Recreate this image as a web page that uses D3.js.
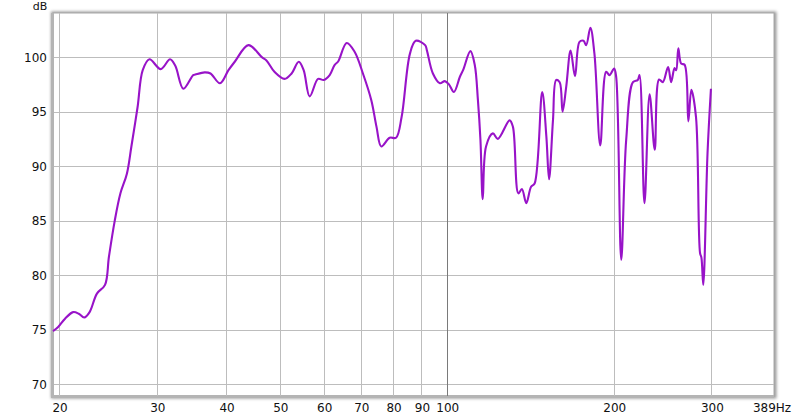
<!DOCTYPE html>
<html><head><meta charset="utf-8">
<script src="https://cdn.jsdelivr.net/npm/d3@7"></script>
<style>body{margin:0;background:#fff}svg{display:block}</style>
</head><body>
<svg id="c" width="800" height="416"></svg>
<script>
const freqs = [19.5,19.9,20.5,21.2,21.7,22.2,22.7,23.4,24.2,24.6,25.2,25.8,26.5,27.0,27.7,28.3,29.1,30.5,31.7,32.4,33.5,34.9,35.2,36.6,37.5,39.0,40.4,41.5,43.9,46.4,47.3,48.9,51.0,52.5,54.1,55.2,56.6,58.6,60.0,61.5,62.8,63.7,66.0,68.2,70.6,73.1,74.7,76.2,78.9,81.0,82.9,85.8,87.9,91.4,92.1,94.4,97.2,99.2,100.9,103.0,105.6,107,110.3,112.3,113.8,115,116.1,117.7,121.1,123.6,129.8,131.6,134.6,136.6,139.1,141.9,144,148.6,151.2,152.9,155.4,157.5,159.8,161.7,164.2,167.2,170.3,173.5,176.4,178.4,181.5,184.6,189.1,193.8,196.5,200.3,202,206.3,210.6,216.6,221,222.6,227.2,232.1,237.1,241.4,245.2,250.6,253.8,257.4,259.2,261.5,264.6,268.4,272.6,276,281.4,286.2,287.8,290,295.2,299.4];
const spl = [74.85,75.2,76.0,76.6,76.45,76.1,76.6,78.3,79.1,81.7,85.0,87.5,89.3,91.8,95.4,98.8,99.8,98.9,99.8,99.2,97.1,98.35,98.4,98.6,98.5,97.6,98.8,99.6,101.1,100.0,99.7,98.65,98.0,98.5,99.57,98.8,96.4,98.0,97.9,98.35,99.3,99.6,101.3,100.5,98.5,96.05,93.6,91.8,92.6,92.6,94.5,100.3,101.5,101.1,100.6,98.5,97.6,97.8,97.5,96.8,98.2,98.8,100.55,99.3,96.05,92.4,86.95,91.8,93.0,92.5,94.2,93.6,87.5,87.9,86.6,88.1,88.4,96.8,92.7,88.8,94.2,97.9,97.7,95.0,97.3,100.6,98.25,101.4,101.5,101.1,102.7,100.3,91.9,98.65,98.35,98.96,98.2,81.4,92.4,97.7,97.9,98.35,86.6,96.6,91.5,97.95,97.7,99.1,97.7,99.0,98.8,100.8,99.4,99.3,94.1,97.0,94.5,82.0,81.6,79.1,91.2,97.1];
const xTicks = [20,30,40,50,60,70,80,90,100,200,300];
const xTickLabels = ["20","30","40","50","60","70","80","90","100","200","300"];
const yTicks = [70,75,80,85,90,95,100];
const xDomain = [19.5, 389];
const yDomain = [68.9, 104.05];

const svg = d3.select("#c");
const L = 53, T = 13, R = 774, B = 396;
const x = d3.scaleLog().domain(xDomain).range([L, R]);
const y = d3.scaleLinear().domain(yDomain).range([B, T]);

const defs = svg.append("defs");
const f = defs.append("filter").attr("id","sh").attr("x","-5%").attr("y","-5%").attr("width","110%").attr("height","110%");
f.append("feGaussianBlur").attr("stdDeviation",1.5);
svg.append("rect").attr("x",L-2).attr("y",T-1.5).attr("width",R-L+4.5).attr("height",B-T+4)
  .attr("fill","#9a9a9a").attr("filter","url(#sh)");
svg.append("rect").attr("x",L).attr("y",T).attr("width",R-L).attr("height",B-T)
  .attr("fill","#fff").attr("stroke","#a8a8a8").attr("stroke-width",1);
svg.append("line").attr("x1",L-0.5).attr("x2",L-0.5).attr("y1",T).attr("y2",B+1).attr("stroke","#b4b4b4").attr("stroke-width",3);
svg.append("line").attr("x1",L-2).attr("x2",R).attr("y1",B+0.5).attr("y2",B+0.5).attr("stroke","#b4b4b4").attr("stroke-width",3);

const g = svg.append("g");
g.selectAll("line.hy").data(yTicks).join("line")
  .attr("x1",L+1).attr("x2",R).attr("y1",d=>Math.round(y(d))+0.5).attr("y2",d=>Math.round(y(d))+0.5)
  .attr("stroke","#bdbdbd").attr("stroke-width",1);
g.selectAll("line.vx").data(xTicks).join("line")
  .attr("x1",d=>Math.round(x(d))+0.5).attr("x2",d=>Math.round(x(d))+0.5).attr("y1",T).attr("y2",B)
  .attr("stroke",d=>d===100?"#7a7a7a":"#bdbdbd").attr("stroke-width",1);

const line = d3.line().x((d,i)=>x(freqs[i])).y(d=>y(d)).curve(d3.curveCatmullRom.alpha(0.5));
svg.append("path").attr("d",line(spl)).attr("fill","none").attr("stroke","#9813c8").attr("stroke-width",2.1)
  .attr("stroke-linejoin","round");

const font = "DejaVu Sans, Verdana, sans-serif";
svg.selectAll("text.yt").data(yTicks).join("text")
  .attr("x",47).attr("y",d=>y(d)+4.5).attr("text-anchor","end")
  .attr("font-family",font).attr("font-size",12).attr("fill","#111").text(d=>d);
svg.selectAll("text.xt").data(xTicks).join("text")
  .attr("x",d=>x(d)+1).attr("y",412).attr("text-anchor","middle")
  .attr("font-family",font).attr("font-size",12).attr("fill","#111").text((d,i)=>xTickLabels[i]);
svg.append("text").attr("x",772).attr("y",412).attr("text-anchor","middle")
  .attr("font-family",font).attr("font-size",12).attr("fill","#111").text("389Hz");
svg.append("text").attr("x",40).attr("y",9.5).attr("text-anchor","middle")
  .attr("font-family",font).attr("font-size",11).attr("fill","#111").text("dB");
</script>
</body></html>
